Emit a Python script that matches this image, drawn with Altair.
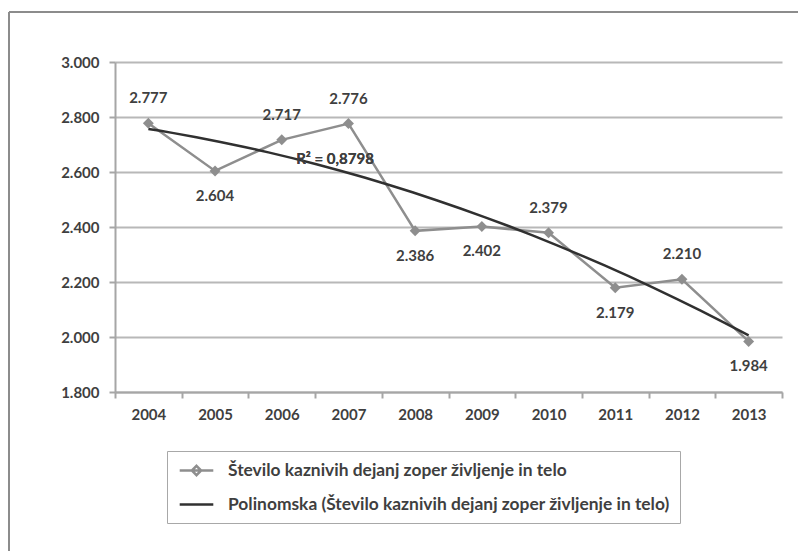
import altair as alt
import pandas as pd

years = [2004, 2005, 2006, 2007, 2008, 2009, 2010, 2011, 2012, 2013]
values = [2777, 2604, 2717, 2776, 2386, 2402, 2379, 2179, 2210, 1984]
label_side = ["above", "below", "above", "above", "below", "below", "above", "below", "above", "below"]
y_ticks = [1800, 2000, 2200, 2400, 2600, 2800, 3000]
series_names = [
    "Število kaznivih dejanj zoper življenje in telo",
    "Polinomska (Število kaznivih dejanj zoper življenje in telo)",
]
r2_label = "R² = 0,8798"

df = pd.DataFrame({"year": years, "value": values, "side": label_side})
legend_df = pd.DataFrame({"series": series_names})

FONT = "Lato"
TXT = "#3f3f3f"
GRAY = "#8e8e8e"
DARK = "#303030"

x_edges = [y - 0.5 for y in years] + [years[-1] + 0.5]

W, H = 667, 330
half_band = W / len(years) / 2

xs = alt.X(
    "year:Q",
    scale=alt.Scale(domain=[x_edges[0], x_edges[-1]], nice=False, zero=False),
    axis=alt.Axis(
        values=x_edges,
        labelExpr=f"datum.value > {years[-1]} ? '' : toString(datum.value + 0.5)",
        labelOffset=half_band,
        labelFlush=False,
        labelOverlap=False,
        grid=False,
        title=None,
        labelPadding=9,
    ),
)
ys = alt.Y(
    "value:Q",
    scale=alt.Scale(domain=[y_ticks[0], y_ticks[-1]], nice=False, zero=False),
    axis=alt.Axis(
        values=y_ticks,
        labelExpr="replace(format(datum.value, ','), ',', '.')",
        grid=True,
        title=None,
        labelPadding=10,
    ),
)

base = alt.Chart(df)

line = base.mark_line(color=GRAY, strokeWidth=2.5).encode(x=xs, y=ys)
pts = base.mark_point(shape="diamond", filled=True, size=120, color=GRAY, opacity=1).encode(x=xs, y=ys)

trend = base.transform_regression("year", "value", method="poly", order=2).mark_line(
    color=DARK, strokeWidth=2.5
).encode(x="year:Q", y="value:Q")

lab_expr = "replace(format(datum.value, ','), ',', '.')"
labels_above = base.transform_filter("datum.side == 'above'").transform_calculate(
    lab=lab_expr
).mark_text(dy=-25, font=FONT, fontSize=15, fontWeight="bold", color=TXT).encode(
    x="year:Q", y="value:Q", text="lab:N"
)
labels_below = base.transform_filter("datum.side == 'below'").transform_calculate(
    lab=lab_expr
).mark_text(dy=25, font=FONT, fontSize=15, fontWeight="bold", color=TXT).encode(
    x="year:Q", y="value:Q", text="lab:N"
)

r2 = alt.Chart(legend_df).mark_text(
    font=FONT, fontSize=15, fontWeight="bold", color=TXT
).encode(x=alt.value(220), y=alt.value(97), text=alt.value(r2_label))

sym_data = "M-2.1,0H2.1M0,-0.58L0.58,0L0,0.58L-0.58,0Z"
sym_trend = "M-2.1,0H2.1"

leg = alt.Legend(
    title=None,
    orient="none",
    legendX=52,
    legendY=389,
    padding=10,
    strokeColor="#a8a8a8",
    symbolSize=256,
    symbolStrokeWidth=2.5,
    symbolOpacity=1,
    symbolOffset=10,
    labelOffset=22,
    labelFont=FONT,
    labelFontSize=17.4,
    labelFontWeight="bold",
    labelColor=TXT,
    labelLimit=700,
    rowPadding=14,
)

legend_layer = alt.Chart(legend_df).mark_point(opacity=0, filled=False).encode(
    color=alt.Color("series:N", scale=alt.Scale(domain=series_names, range=[GRAY, DARK]), legend=leg),
    shape=alt.Shape("series:N", scale=alt.Scale(domain=series_names, range=[sym_data, sym_trend]), legend=leg),
)

frame_top = alt.Chart(legend_df).mark_rule(color="#8c8c8c", strokeWidth=2).encode(
    x=alt.value(-106), x2=alt.value(720), y=alt.value(-50)
)
frame_left = alt.Chart(legend_df).mark_rule(color="#8c8c8c", strokeWidth=2).encode(
    x=alt.value(-106), y=alt.value(-50), y2=alt.value(520)
)

chart = (
    alt.layer(frame_top, frame_left, line, trend, pts, labels_above, labels_below, r2, legend_layer)
    .properties(
        width=W,
        height=H,
        autosize=alt.AutoSizeParams(type="none"),
        padding={"left": 107, "top": 54, "right": 16, "bottom": 159},
    )
    .configure_view(stroke=None)
    .configure_axis(
        labelFont=FONT,
        labelFontSize=15,
        labelFontWeight="bold",
        labelColor=TXT,
        domainColor="#a6a6a6",
        domainWidth=2,
        tickColor="#a6a6a6",
        tickWidth=2,
        tickSize=6,
        gridColor="#b8b8b8",
        gridWidth=2,
    )
)

chart.save("out.html", embed_options={"renderer": "svg", "actions": False})
